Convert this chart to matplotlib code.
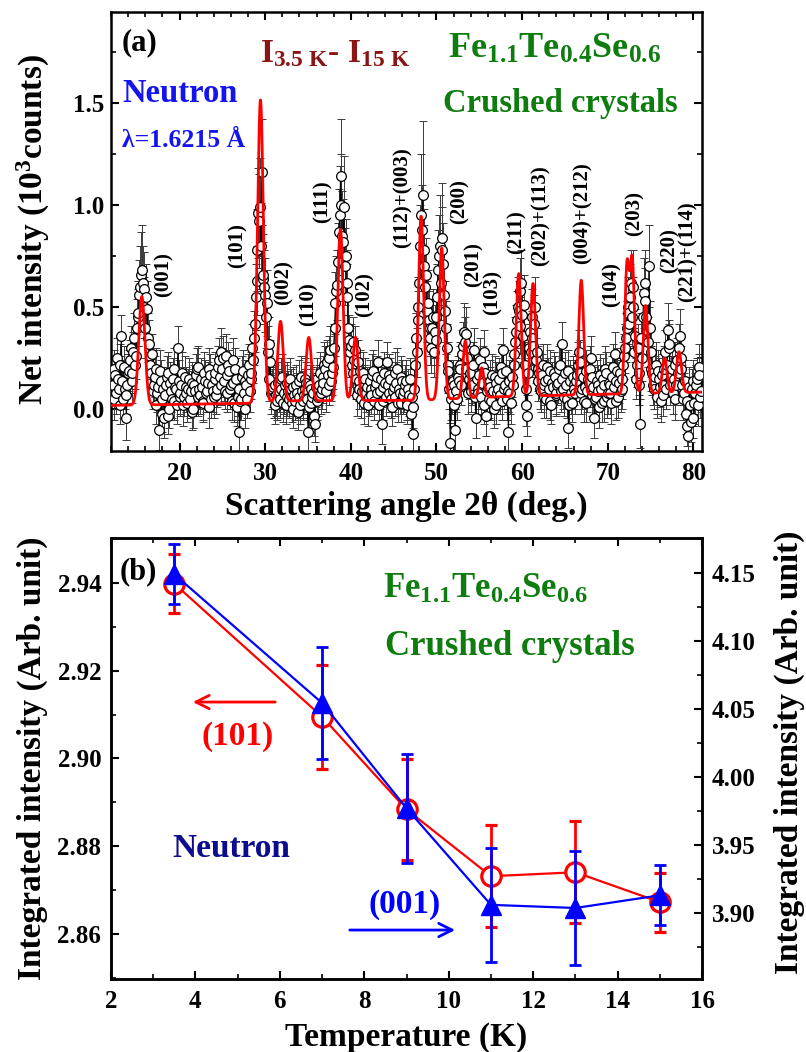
import numpy as np
import matplotlib
matplotlib.use("Agg")
import matplotlib.pyplot as plt
from matplotlib.ticker import MultipleLocator, FormatStrFormatter

plt.rcParams.update({
    "font.family": ["Liberation Serif", "DejaVu Serif"],
    "font.weight": "bold",
    "mathtext.fontset": "custom",
    "mathtext.rm": "Liberation Serif:bold",
    "mathtext.it": "Liberation Serif:bold",
    "mathtext.bf": "Liberation Serif:bold",
    "axes.linewidth": 1.8,
})

# ---------------- panel (a) data ----------------
# measured points on two interleaved 0.2 deg grids (12.2, 12.4, ... and 12.3, 12.5, ...)
grid_a_start = 12.2
grid_b_start = 12.3
grid_step = 0.2
net_intensity_a = [
    0.12, 0.20, 0.08, 0.15, 0.22, 0.36, 0.05, 0.10, -0.04, 0.18,
    0.24, 0.14, 0.28, 0.22, 0.40, 0.47, 0.60, 0.68, 0.59, 0.40,
    0.49, 0.32, 0.22, 0.27, 0.12, 0.20, 0.08, -0.10, 0.14, 0.05,
    -0.04, 0.12, 0.18, 0.00, 0.09, 0.15, 0.04, 0.10, 0.30, 0.06,
    0.12, 0.02, 0.16, 0.08, 0.10, 0.05, 0.13, 0.00, 0.09, 0.20,
    0.21, 0.07, 0.11, 0.03, 0.14, 0.09, 0.01, 0.17, 0.12, 0.06,
    0.18, 0.10, 0.24, 0.28, 0.20, 0.14, 0.26, 0.08, 0.19, 0.12,
    0.24, 0.03, 0.15, 0.06, -0.11, 0.05, 0.19, 0.00, 0.12, 0.17,
    0.09, 0.18, 0.24, 0.42, 0.63, 0.96, 0.99, 1.16, 0.66, 0.56,
    0.52, 0.32, 0.23, 0.10, 0.06, 0.12, 0.04, 0.09, 0.15, 0.16,
    0.08, 0.02, 0.13, 0.05, 0.10, 0.00, 0.07, 0.12, -0.01, 0.06,
    0.16, 0.04, 0.10, 0.13, -0.11, 0.12, 0.03, 0.08, -0.07, 0.15,
    0.06, 0.18, 0.10, 0.13, 0.20, 0.23, 0.12, 0.29, 0.18, 0.30,
    0.52, 0.61, 0.87, 1.14, 0.85, 0.99, 0.75, 0.62, 0.34, 0.31,
    0.33, 0.24, 0.15, 0.23, 0.10, 0.05, 0.18, 0.12, 0.08, 0.02,
    0.14, 0.07, 0.19, 0.11, 0.16, 0.23, 0.09, -0.07, 0.04, 0.13,
    0.23, 0.08, 0.15, 0.01, 0.11, 0.06, 0.20, 0.10, 0.03, 0.14,
    0.09, 0.14, 0.02, 0.07, -0.02, -0.12, 0.10, 0.35, 0.44, 0.62,
    0.95, 1.05, 0.70, 0.66, 0.52, 0.40, 0.30, 0.45, 0.38, 0.34,
    0.68, 0.80, 0.84, 0.71, 0.48, 0.30, 0.19, -0.165, 0.08, 0.12,
    -0.10, 0.05, 0.14, 0.20, 0.27, 0.38, 0.37, 0.25, 0.15, 0.09,
    0.12, 0.29, -0.04, 0.10, 0.17, 0.06, 0.21, 0.28, -0.03, 0.11,
    0.14, 0.04, 0.09, 0.16, 0.02, 0.10, 0.07, 0.18, 0.29, 0.12,
    0.05, -0.11, 0.08, 0.16, 0.22, 0.33, 0.44, 0.48, 0.58, 0.46,
    0.51, 0.02, -0.03, 0.30, 0.28, 0.35, 0.42, 0.24, 0.14, 0.18,
    0.09, 0.22, 0.12, 0.05, 0.15, 0.19, 0.02, 0.11, 0.16, 0.08,
    0.13, 0.22, 0.32, 0.10, 0.18, 0.05, -0.09, 0.14, 0.03, 0.12,
    0.08, 0.17, 0.28, 0.23, 0.10, 0.04, 0.19, 0.09, 0.13, 0.25,
    0.16, -0.04, 0.06, 0.12, 0.01, 0.10, 0.15, 0.04, 0.18, 0.08,
    0.12, 0.03, 0.21, 0.27, 0.14, 0.06, 0.18, 0.10, 0.22, 0.30,
    0.40, 0.47, 0.55, 0.45, 0.60, 0.36, 0.22, 0.12, -0.07, 0.25,
    0.57, 0.53, 0.39, 0.70, 0.28, 0.18, 0.10, 0.22, 0.06, 0.15,
    0.04, 0.12, 0.20, 0.10, 0.39, 0.32, 0.16, 0.08, 0.22, 0.12,
    0.18, 0.36, 0.25, 0.05, 0.14, -0.08, -0.13, 0.02, 0.10, -0.04,
    0.08, 0.15, 0.21, 0.06,
]
net_error_a = [
    0.10, 0.09, 0.10, 0.09, 0.10, 0.10, 0.09, 0.10, 0.11, 0.09,
    0.10, 0.11, 0.10, 0.12, 0.14, 0.16, 0.20, 0.22, 0.18, 0.15,
    0.14, 0.12, 0.11, 0.10, 0.10, 0.10, 0.09, 0.10, 0.10, 0.09,
    0.10, 0.09, 0.10, 0.09, 0.10, 0.10, 0.09, 0.10, 0.11, 0.09,
    0.09, 0.10, 0.10, 0.09, 0.10, 0.09, 0.10, 0.09, 0.10, 0.10,
    0.10, 0.09, 0.10, 0.09, 0.10, 0.09, 0.10, 0.10, 0.09, 0.10,
    0.10, 0.09, 0.11, 0.12, 0.10, 0.10, 0.11, 0.09, 0.10, 0.10,
    0.11, 0.09, 0.10, 0.09, 0.10, 0.10, 0.10, 0.09, 0.10, 0.10,
    0.10, 0.10, 0.11, 0.14, 0.17, 0.22, 0.24, 0.26, 0.20, 0.18,
    0.16, 0.13, 0.11, 0.10, 0.10, 0.10, 0.09, 0.10, 0.10, 0.11,
    0.10, 0.09, 0.10, 0.09, 0.10, 0.09, 0.10, 0.10, 0.09, 0.10,
    0.10, 0.09, 0.10, 0.10, 0.10, 0.10, 0.09, 0.10, 0.09, 0.10,
    0.09, 0.10, 0.10, 0.10, 0.11, 0.11, 0.10, 0.12, 0.11, 0.12,
    0.15, 0.17, 0.21, 0.28, 0.22, 0.25, 0.18, 0.16, 0.12, 0.11,
    0.12, 0.11, 0.10, 0.11, 0.10, 0.09, 0.10, 0.10, 0.09, 0.10,
    0.10, 0.09, 0.10, 0.10, 0.10, 0.11, 0.09, 0.10, 0.09, 0.10,
    0.10, 0.09, 0.10, 0.09, 0.10, 0.09, 0.10, 0.10, 0.09, 0.10,
    0.10, 0.10, 0.09, 0.10, 0.10, 0.10, 0.10, 0.12, 0.14, 0.17,
    0.30, 0.36, 0.20, 0.18, 0.16, 0.14, 0.12, 0.14, 0.13, 0.12,
    0.20, 0.25, 0.27, 0.20, 0.15, 0.12, 0.11, 0.10, 0.10, 0.10,
    0.10, 0.10, 0.10, 0.11, 0.12, 0.14, 0.13, 0.11, 0.10, 0.10,
    0.10, 0.11, 0.10, 0.10, 0.10, 0.10, 0.10, 0.11, 0.10, 0.10,
    0.10, 0.09, 0.10, 0.10, 0.09, 0.10, 0.09, 0.10, 0.11, 0.10,
    0.10, 0.10, 0.10, 0.10, 0.11, 0.12, 0.14, 0.15, 0.16, 0.14,
    0.15, 0.10, 0.10, 0.12, 0.12, 0.13, 0.14, 0.11, 0.10, 0.10,
    0.10, 0.10, 0.10, 0.09, 0.10, 0.10, 0.09, 0.10, 0.10, 0.10,
    0.10, 0.10, 0.11, 0.10, 0.10, 0.09, 0.10, 0.10, 0.09, 0.10,
    0.10, 0.10, 0.11, 0.11, 0.10, 0.10, 0.10, 0.10, 0.10, 0.11,
    0.10, 0.10, 0.10, 0.10, 0.10, 0.10, 0.10, 0.10, 0.10, 0.10,
    0.10, 0.10, 0.11, 0.11, 0.10, 0.10, 0.10, 0.10, 0.11, 0.12,
    0.13, 0.15, 0.16, 0.14, 0.18, 0.13, 0.11, 0.10, 0.12, 0.11,
    0.17, 0.16, 0.14, 0.20, 0.12, 0.11, 0.10, 0.11, 0.10, 0.10,
    0.10, 0.10, 0.11, 0.10, 0.13, 0.12, 0.10, 0.10, 0.11, 0.10,
    0.11, 0.13, 0.12, 0.10, 0.10, 0.10, 0.11, 0.10, 0.10, 0.10,
    0.10, 0.10, 0.11, 0.10,
]
net_intensity_b = [
    0.05, 0.17, 0.25, 0.10, 0.02, 0.14, 0.21, 0.07, 0.12, 0.19,
    0.30, 0.18, 0.35, 0.26, 0.45, 0.56, 0.66, 0.62, 0.50, 0.55,
    0.35, 0.26, 0.18, 0.09, 0.16, 0.02, 0.11, 0.19, -0.02, 0.10,
    0.07, 0.16, -0.03, 0.13, 0.05, 0.20, 0.11, 0.02, 0.14, 0.08,
    0.18, 0.06, 0.11, 0.03, 0.15, 0.09, -0.01, 0.12, 0.17, 0.06,
    0.10, 0.15, 0.04, 0.18, 0.08, 0.13, 0.20, 0.05, 0.09, 0.15,
    0.07, 0.21, 0.16, 0.12, 0.25, 0.09, 0.17, 0.22, 0.10, 0.04,
    0.13, 0.20, 0.01, 0.10, 0.04, 0.16, 0.08, 0.14, 0.05, 0.22,
    0.15, 0.30, 0.35, 0.55, 0.78, 0.92, 0.80, 0.64, 0.60, 0.45,
    0.28, 0.15, 0.08, 0.11, 0.02, 0.07, 0.13, 0.05, 0.10, 0.03,
    0.12, 0.06, 0.09, 0.15, 0.03, 0.11, 0.04, 0.08, 0.14, 0.02,
    0.09, 0.07, 0.15, 0.05, 0.01, 0.10, 0.06, -0.03, 0.11, 0.04,
    0.12, 0.08, 0.16, 0.22, 0.09, 0.17, 0.25, 0.14, 0.21, 0.40,
    0.58, 0.72, 0.95, 1.00, 0.82, 0.70, 0.55, 0.40, 0.28, 0.22,
    0.18, 0.29, 0.07, 0.14, 0.19, 0.09, 0.03, 0.15, 0.11, 0.06,
    0.10, 0.17, 0.04, 0.13, 0.08, 0.02, 0.15, 0.11, 0.18, 0.06,
    0.12, 0.17, 0.05, 0.09, 0.18, 0.13, 0.03, 0.08, 0.16, 0.07,
    0.12, 0.04, 0.10, 0.15, 0.06, 0.01, 0.22, 0.28, 0.50, 0.80,
    0.88, 0.78, 0.60, 0.48, 0.44, 0.35, 0.40, 0.28, 0.45, 0.55,
    0.75, 0.62, 0.78, 0.56, 0.40, 0.22, 0.10, 0.05, 0.14, 0.02,
    0.09, 0.16, 0.22, 0.12, 0.31, 0.33, 0.20, 0.08, 0.18, 0.13,
    0.22, 0.06, 0.15, 0.08, 0.24, 0.13, 0.02, 0.18, 0.09, 0.05,
    0.11, 0.17, 0.00, 0.13, 0.08, 0.15, 0.21, 0.04, 0.10, 0.19,
    0.09, 0.14, 0.03, 0.12, 0.27, 0.38, 0.50, 0.41, 0.62, 0.36,
    0.22, 0.10, 0.18, 0.38, 0.45, 0.31, 0.50, 0.28, 0.20, 0.10,
    0.17, 0.06, 0.14, 0.21, 0.10, 0.04, 0.13, 0.18, 0.07, 0.12,
    0.20, 0.09, 0.15, 0.06, 0.12, 0.19, 0.02, 0.08, 0.16, 0.10,
    0.14, 0.22, 0.18, 0.08, 0.16, 0.11, 0.03, 0.15, 0.20, 0.07,
    0.11, 0.05, 0.14, 0.09, 0.17, 0.03, 0.12, 0.20, 0.06, 0.13,
    0.08, 0.16, 0.11, 0.04, 0.19, 0.13, 0.09, 0.15, 0.26, 0.35,
    0.50, 0.42, 0.62, 0.50, 0.28, 0.15, 0.30, 0.18, 0.35, 0.45,
    0.62, 0.45, 0.33, 0.40, 0.20, 0.12, 0.16, 0.08, 0.19, 0.11,
    0.17, 0.07, 0.28, 0.22, 0.30, 0.12, 0.20, 0.15, 0.05, 0.24,
    0.30, 0.20, 0.12, 0.08, -0.02, 0.04, 0.11, -0.06, 0.14, 0.03,
    0.12, 0.02, 0.17, 0.09,
]
net_error_b = [
    0.10, 0.09, 0.10, 0.10, 0.09, 0.10, 0.10, 0.09, 0.10, 0.10,
    0.11, 0.10, 0.12, 0.11, 0.14, 0.17, 0.21, 0.18, 0.15, 0.16,
    0.12, 0.11, 0.10, 0.09, 0.10, 0.09, 0.10, 0.10, 0.09, 0.10,
    0.10, 0.10, 0.09, 0.10, 0.09, 0.10, 0.10, 0.09, 0.10, 0.10,
    0.10, 0.09, 0.10, 0.09, 0.10, 0.10, 0.09, 0.10, 0.10, 0.09,
    0.10, 0.10, 0.09, 0.10, 0.09, 0.10, 0.10, 0.09, 0.10, 0.10,
    0.09, 0.10, 0.10, 0.10, 0.11, 0.09, 0.10, 0.11, 0.10, 0.09,
    0.10, 0.10, 0.09, 0.10, 0.09, 0.10, 0.10, 0.10, 0.09, 0.10,
    0.10, 0.12, 0.13, 0.16, 0.20, 0.23, 0.21, 0.18, 0.18, 0.15,
    0.13, 0.11, 0.10, 0.10, 0.09, 0.10, 0.10, 0.09, 0.10, 0.09,
    0.10, 0.09, 0.10, 0.10, 0.09, 0.10, 0.09, 0.10, 0.10, 0.09,
    0.10, 0.09, 0.10, 0.09, 0.10, 0.10, 0.09, 0.10, 0.10, 0.09,
    0.10, 0.10, 0.10, 0.11, 0.10, 0.10, 0.11, 0.10, 0.11, 0.14,
    0.17, 0.19, 0.24, 0.25, 0.21, 0.19, 0.16, 0.14, 0.12, 0.11,
    0.11, 0.12, 0.10, 0.10, 0.10, 0.09, 0.10, 0.10, 0.10, 0.09,
    0.10, 0.10, 0.09, 0.10, 0.10, 0.09, 0.10, 0.10, 0.10, 0.09,
    0.10, 0.10, 0.09, 0.10, 0.10, 0.10, 0.09, 0.10, 0.10, 0.09,
    0.10, 0.09, 0.10, 0.10, 0.09, 0.10, 0.11, 0.12, 0.15, 0.20,
    0.22, 0.20, 0.17, 0.15, 0.14, 0.13, 0.13, 0.12, 0.14, 0.16,
    0.20, 0.18, 0.21, 0.16, 0.13, 0.11, 0.10, 0.10, 0.10, 0.10,
    0.10, 0.10, 0.11, 0.10, 0.12, 0.12, 0.11, 0.10, 0.10, 0.10,
    0.11, 0.10, 0.10, 0.10, 0.11, 0.10, 0.09, 0.10, 0.10, 0.09,
    0.10, 0.10, 0.09, 0.10, 0.10, 0.10, 0.11, 0.09, 0.10, 0.10,
    0.10, 0.10, 0.10, 0.10, 0.11, 0.13, 0.15, 0.14, 0.16, 0.13,
    0.11, 0.10, 0.11, 0.13, 0.14, 0.12, 0.15, 0.12, 0.11, 0.10,
    0.10, 0.10, 0.10, 0.11, 0.10, 0.09, 0.10, 0.10, 0.10, 0.10,
    0.11, 0.10, 0.10, 0.09, 0.10, 0.10, 0.09, 0.10, 0.10, 0.10,
    0.10, 0.11, 0.10, 0.10, 0.10, 0.10, 0.09, 0.10, 0.11, 0.10,
    0.10, 0.09, 0.10, 0.10, 0.10, 0.09, 0.10, 0.11, 0.10, 0.10,
    0.10, 0.10, 0.10, 0.09, 0.11, 0.10, 0.10, 0.10, 0.11, 0.12,
    0.15, 0.14, 0.16, 0.15, 0.12, 0.10, 0.12, 0.11, 0.12, 0.14,
    0.16, 0.14, 0.12, 0.13, 0.11, 0.10, 0.10, 0.10, 0.10, 0.10,
    0.10, 0.10, 0.11, 0.11, 0.12, 0.10, 0.11, 0.10, 0.10, 0.11,
    0.12, 0.11, 0.10, 0.10, 0.10, 0.10, 0.10, 0.10, 0.10, 0.10,
    0.10, 0.10, 0.10, 0.10,
]

# fitted magnetic peaks (position, amplitude, FWHM) and fit background
peak_pos = [15.6, 29.45, 31.79, 35.09, 38.79, 40.54, 48.2, 50.61, 53.37, 55.28,
            59.6, 61.27, 66.9, 72.24, 72.86, 74.41, 76.63, 78.31]
peak_amp = [0.53, 1.48, 0.39, 0.31, 0.84, 0.31, 0.90, 0.74, 0.28, 0.145,
            0.60, 0.55, 0.56, 0.62, 0.64, 0.43, 0.17, 0.20]
peak_fwhm = [0.85, 0.8, 0.75, 0.75, 0.72, 0.72, 0.68, 0.68, 0.65, 0.65,
             0.68, 0.68, 0.65, 0.6, 0.6, 0.65, 0.65, 0.7]
bg_x = [12.0, 28.0, 32.0, 48.0, 57.0, 70.0, 81.0]
bg_y = [0.020, 0.030, 0.042, 0.045, 0.062, 0.075, 0.085]

peak_labels = ["(001)", "(101)", "(002)", "(110)", "(111)", "(102)", "(112)+(003)",
               "(200)", "(201)", "(103)", "(211)", "(202)+(113)", "(004)+(212)",
               "(104)", "(203)", "(220)", "(221)+(114)"]
peak_label_x = [18.2, 26.77, 32.17, 35.09, 36.72, 41.59, 46.0, 52.67, 54.3, 56.56,
                59.3, 62.12, 67.06, 70.45, 73.1, 77.18, 79.3]
peak_label_y = [0.658, 0.804, 0.621, 0.516, 1.016, 0.56, 1.037, 1.016, 0.711, 0.57,
                0.866, 0.949, 0.961, 0.609, 0.959, 0.775, 0.772]

# ---------------- panel (b) data ----------------
temperature = [3.5, 7, 9, 11, 13, 15]
int_101 = [2.9398, 2.9095, 2.8884, 2.8732, 2.8741, 2.8673]
int_101_err = [0.0067, 0.0118, 0.0114, 0.0116, 0.0116, 0.0067]
int_001 = [4.149, 4.0544, 3.977, 3.906, 3.9037, 3.913]
int_001_err = [0.022, 0.041, 0.040, 0.042, 0.042, 0.022]

GREEN = "#0e7c0e"
DARKRED = "#8b1414"
BLUE = "#1414f0"
NAVY = "#0c0c8c"

fig = plt.figure(figsize=(8.06, 10.52), dpi=100)
ax1 = fig.add_axes([0.1377, 0.5713, 0.7333, 0.4173])
ax2 = fig.add_axes([0.1377, 0.0694, 0.7333, 0.4192])


def style(ax, labelsize=18):
    ax.tick_params(which="both", direction="in", labelsize=labelsize)
    ax.tick_params(which="major", length=6, width=1.5)
    ax.tick_params(which="minor", length=3.5, width=1.2)
    for lab in ax.get_xticklabels() + ax.get_yticklabels():
        lab.set_fontweight("bold")


# ---------------- panel (a) ----------------
ya = np.array(net_intensity_a)
yb = np.array(net_intensity_b)
xa = grid_a_start + grid_step * np.arange(len(ya))
xb = grid_b_start + grid_step * np.arange(len(yb))
x = np.concatenate([xa, xb])
y = np.concatenate([ya, yb])
e = np.concatenate([net_error_a, net_error_b])
order = np.argsort(x)
x, y, e = x[order], y[order], e[order]

ax1.errorbar(x, y, yerr=e, fmt="none", ecolor="#3a3a3a", elinewidth=0.7,
             capsize=2.8, capthick=0.7, zorder=2)
ax1.plot(x, y, "-", color="black", lw=0.8, zorder=3)
ax1.plot(x, y, "o", ms=7.0, mfc="white", mec="black", mew=0.9, zorder=4)

xf = np.linspace(12, 81, 3000)
fit = np.interp(xf, bg_x, bg_y)
for p, a, w in zip(peak_pos, peak_amp, peak_fwhm):
    fit = fit + a * np.exp(-4 * np.log(2) * (xf - p) ** 2 / w ** 2)
ax1.plot(xf, fit, "-", color="red", lw=2.0, zorder=5)

ax1.set_xlim(12, 81)
ax1.set_ylim(-0.203, 1.944)
ax1.xaxis.set_major_locator(MultipleLocator(10))
ax1.xaxis.set_minor_locator(MultipleLocator(2))
ax1.yaxis.set_major_locator(MultipleLocator(0.5))
ax1.yaxis.set_minor_locator(MultipleLocator(0.25))
ax1.yaxis.set_major_formatter(FormatStrFormatter("%.1f"))
ax1.tick_params(which="both", top=True, right=True)
ax1.tick_params(axis="x", pad=8)
ax1.tick_params(axis="y", pad=5)
style(ax1)

for lab, lx, ly in zip(peak_labels, peak_label_x, peak_label_y):
    ax1.text(lx, ly, lab, rotation=90, ha="center", va="center", fontsize=15,
             fontweight="bold", zorder=6)

t = ax1.transAxes
ax1.text(0.0186, 0.929, "(a)", transform=t, fontsize=22, fontweight="bold",
         ha="left", va="center")
ax1.text(0.379, 0.886, r"I$_{3.5\ K}$- I$_{15\ K}$", transform=t, fontsize=24,
         color=DARKRED, ha="center", va="baseline")
ax1.text(0.7496, 0.895, r"Fe$_{1.1}$Te$_{0.4}$Se$_{0.6}$", transform=t, fontsize=26,
         color=GREEN, ha="center", va="baseline")
ax1.text(0.76, 0.772, "Crushed crystals", transform=t, fontsize=23.5, color=GREEN,
         ha="center", va="baseline")
ax1.text(0.0186, 0.795, "Neutron", transform=t, fontsize=23.5, color=BLUE,
         ha="left", va="baseline")
ax1.text(0.0186, 0.6925, "λ=1.6215 Å", transform=t, fontsize=18.5, color=BLUE,
         ha="left", va="baseline")

fig.text(406 / 806, 1 - 515 / 1052, "Scattering angle 2θ (deg.)", fontsize=24,
         fontweight="bold", ha="center", va="baseline")
fig.text(43 / 806, 1 - 230 / 1052, r"Net intensity (10$^{3}$counts)", fontsize=24,
         fontweight="bold", rotation=90, rotation_mode="anchor", ha="center",
         va="baseline")

# ---------------- panel (b) ----------------
ax2.errorbar(temperature, int_101, yerr=int_101_err, fmt="-o", color="red", lw=1.6,
             ms=14, mfc="white", mec="red", mew=2.3, elinewidth=2, capsize=4,
             capthick=2, zorder=3)
ax2.set_xlim(2, 16)
ax2.set_ylim(2.8498, 2.9502)
ax2.xaxis.set_major_locator(MultipleLocator(2))
ax2.xaxis.set_minor_locator(MultipleLocator(1))
ax2.yaxis.set_major_locator(MultipleLocator(0.02))
ax2.yaxis.set_minor_locator(MultipleLocator(0.01))
ax2.yaxis.set_major_formatter(FormatStrFormatter("%.2f"))
ax2.tick_params(which="both", top=True, right=False)
ax2.tick_params(axis="x", pad=8)
ax2.tick_params(axis="y", pad=7)
style(ax2)

ax3 = ax2.twinx()
ax3.errorbar(temperature, int_001, yerr=int_001_err, fmt="-^", color="blue", lw=1.6,
             ms=14, mfc="blue", mec="blue", elinewidth=2, capsize=4, capthick=2,
             zorder=3)
ax3.set_ylim(3.8515, 4.1757)
ax3.yaxis.set_major_locator(MultipleLocator(0.05))
ax3.yaxis.set_minor_locator(MultipleLocator(0.025))
ax3.yaxis.set_major_formatter(FormatStrFormatter("%.2f"))
ax3.tick_params(axis="y", pad=7)
style(ax3)

t2 = ax2.transAxes
ax2.text(0.0152, 0.923, "(b)", transform=t2, fontsize=22, fontweight="bold",
         ha="left", va="center")
ax2.text(0.46, 0.864, r"Fe$_{1.1}$Te$_{0.4}$Se$_{0.6}$", transform=t2, fontsize=25,
         color=GREEN, ha="left", va="baseline")
ax2.text(0.4636, 0.7347, "Crushed crystals", transform=t2, fontsize=25, color=GREEN,
         ha="left", va="baseline")
ax2.annotate("", xy=(0.1337, 0.628), xytext=(0.2826, 0.628), xycoords=t2,
             textcoords=t2, arrowprops=dict(arrowstyle="->", color="red", lw=2,
                                            mutation_scale=24))
ax2.text(0.2149, 0.5488, "(101)", transform=t2, fontsize=24, color="red",
         ha="center", va="center")
ax2.text(0.203, 0.297, "Neutron", transform=t2, fontsize=24, color=NAVY,
         ha="center", va="center")
ax2.text(0.4975, 0.168, "(001)", transform=t2, fontsize=24, color="blue",
         ha="center", va="center")
ax2.annotate("", xy=(0.587, 0.111), xytext=(0.3993, 0.111), xycoords=t2,
             textcoords=t2, arrowprops=dict(arrowstyle="->", color="blue", lw=2,
                                            mutation_scale=24))

fig.text(406 / 806, 1 - 1046 / 1052, "Temperature (K)", fontsize=24,
         fontweight="bold", ha="center", va="baseline")
fig.text(41 / 806, 1 - 758 / 1052, "Integrated intensity (Arb. unit)", fontsize=24,
         fontweight="bold", rotation=90, rotation_mode="anchor", ha="center",
         va="baseline")
fig.text(798 / 806, 1 - 752 / 1052, "Integrated intensity (Arb. unit)", fontsize=24,
         fontweight="bold", rotation=90, rotation_mode="anchor", ha="center",
         va="baseline")

fig.savefig("out.png", dpi=100)
